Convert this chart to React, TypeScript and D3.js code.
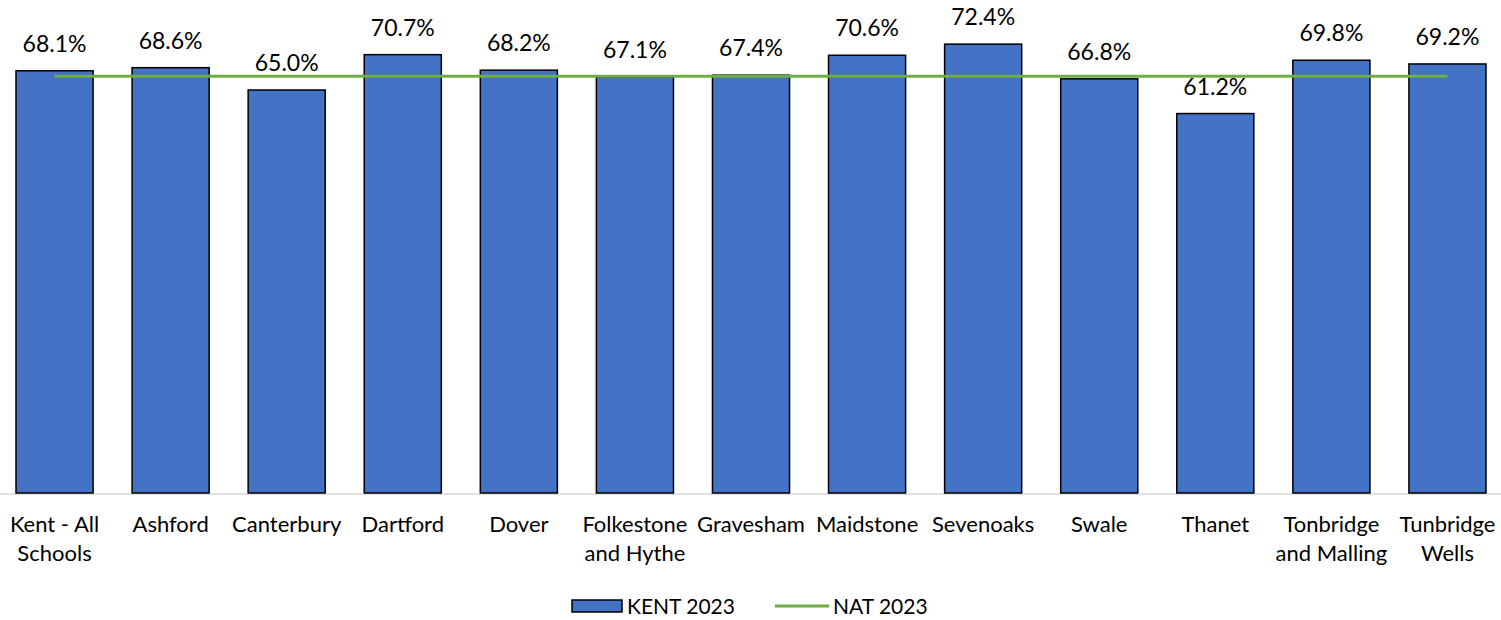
import * as d3 from "d3";

const categories = [
  ["Kent - All", "Schools"],
  ["Ashford"],
  ["Canterbury"],
  ["Dartford"],
  ["Dover"],
  ["Folkestone", "and Hythe"],
  ["Gravesham"],
  ["Maidstone"],
  ["Sevenoaks"],
  ["Swale"],
  ["Thanet"],
  ["Tonbridge", "and Malling"],
  ["Tunbridge", "Wells"],
];
const kent2023 = [68.1, 68.6, 65.0, 70.7, 68.2, 67.1, 67.4, 70.6, 72.4, 66.8, 61.2, 69.8, 69.2];
const nat2023 = [67.2, 67.2, 67.2, 67.2, 67.2, 67.2, 67.2, 67.2, 67.2, 67.2, 67.2, 67.2, 67.2];

const W = 1501;
const H = 620;
const FONT = "Lato, 'Open Sans', sans-serif";

export default function App() {
  const keys = categories.map((c) => c.join(" "));
  const x = d3.scaleBand().domain(keys).range([-3.5, 1505.5]).paddingInner(0.336).paddingOuter(0.168);
  const y = d3.scaleLinear().domain([0, 80]).range([493, -3]);

  const line = d3
    .line<number>()
    .x((_, i) => x(keys[i])! + x.bandwidth() / 2)
    .y((d) => y(d));

  return (
    <svg width={W} height={H} style={{ position: "absolute", left: 0, top: 0, background: "#fff" }} fontFamily={FONT}>
      <line x1={0} x2={W} y1={494} y2={494} stroke="#d9d9d9" strokeWidth={1.5} />
      {kent2023.map((v, i) => (
        <rect
          key={i}
          x={x(keys[i])}
          y={y(v)}
          width={x.bandwidth()}
          height={y(0) - y(v)}
          fill="#4472C4"
          stroke="#000"
          strokeWidth={1.5}
        />
      ))}
      <path d={line(nat2023) ?? ""} fill="none" stroke="#70AD47" strokeWidth={3} />
      {kent2023.map((v, i) => (
        <text
          key={i}
          x={x(keys[i])! + x.bandwidth() / 2}
          y={y(v) - 19}
          textAnchor="middle"
          fontSize={23}
          fill="#000"
        >
          {v.toFixed(1) + "%"}
        </text>
      ))}
      {categories.map((lines, i) => (
        <text key={i} x={x(keys[i])! + x.bandwidth() / 2} y={532} textAnchor="middle" fontSize={22} fill="#000">
          {lines.map((l, j) => (
            <tspan key={j} x={x(keys[i])! + x.bandwidth() / 2} dy={j === 0 ? 0 : 29}>
              {l}
            </tspan>
          ))}
        </text>
      ))}
      <g fontSize={21}>
        <rect x={572} y={600} width={50} height={12} fill="#4472C4" stroke="#000" strokeWidth={1.5} />
        <text x={627} y={614}>KENT 2023</text>
        <line x1={775} x2={829} y1={606} y2={606} stroke="#70AD47" strokeWidth={3} />
        <text x={833} y={614}>NAT 2023</text>
      </g>
    </svg>
  );
}
